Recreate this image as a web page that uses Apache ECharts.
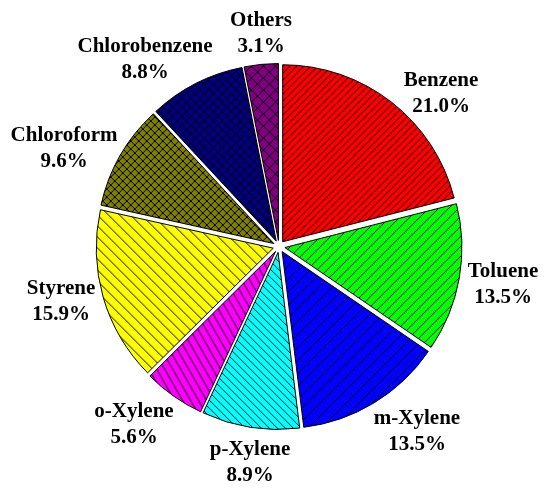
<!DOCTYPE html>
<html>
<head>
<meta charset="utf-8">
<script src="https://cdn.jsdelivr.net/npm/echarts@6/dist/echarts.min.js"></script>
<style>
  html, body { margin: 0; padding: 0; background: #fff; }
  #main { width: 550px; height: 493px; }
</style>
</head>
<body>
<div id="main"></div>
<script>
  // data
  var names = ['Benzene', 'Toluene', 'm-Xylene', 'p-Xylene', 'o-Xylene', 'Styrene', 'Chloroform', 'Chlorobenzene', 'Others'];
  var shares = [21.0, 13.5, 13.5, 8.9, 5.6, 15.9, 9.6, 8.8, 3.1];

  // look of each slice: fill colour and hatch kind
  var fills = ['#ff0000', '#00ff00', '#0000ff', '#00ffff', '#ff00ff', '#ffff00', '#808000', '#000080', '#800080'];
  var hatches = [
    { kind: 'fwd', w: 7, h: 7 },
    { kind: 'fwd', w: 10, h: 10 },
    { kind: 'fwd', w: 13, h: 13 },
    { kind: 'back', w: 8, h: 8 },
    { kind: 'back', w: 8, h: 14 },
    { kind: 'back', w: 11, h: 11 },
    { kind: 'cross', w: 8, h: 8 },
    { kind: 'cross', w: 9, h: 9 },
    { kind: 'cross', w: 12, h: 12 }
  ];
  // label block centres (labels were placed by hand in the original)
  var labelPos = [[441, 94], [503, 285], [417, 432], [250, 463], [134, 425], [61, 302], [64, 149], [145, 60], [261, 34]];

  function makeHatch(bg, h) {
    var c = document.createElement('canvas');
    c.width = h.w;
    c.height = h.h;
    var ctx = c.getContext('2d');
    ctx.fillStyle = bg;
    ctx.fillRect(0, 0, h.w, h.h);
    ctx.strokeStyle = '#000';
    ctx.lineWidth = 1;
    ctx.beginPath();
    for (var k = -1; k <= 1; k++) {
      var ox = k * h.w;
      if (h.kind === 'fwd' || h.kind === 'cross') {
        ctx.moveTo(ox, h.h);
        ctx.lineTo(ox + h.w, 0);
      }
      if (h.kind === 'back' || h.kind === 'cross') {
        ctx.moveTo(ox, 0);
        ctx.lineTo(ox + h.w, h.h);
      }
    }
    ctx.stroke();
    return { image: c, repeat: 'repeat' };
  }

  var pieData = names.map(function (n, i) {
    return {
      name: n,
      value: shares[i],
      selected: true,
      itemStyle: { color: makeHatch(fills[i], hatches[i]) }
    };
  });

  var labels = names.map(function (n, i) {
    return {
      type: 'text',
      x: labelPos[i][0],
      y: labelPos[i][1],
      silent: true,
      style: {
        text: n + '\n' + shares[i].toFixed(1) + '%',
        fill: '#000',
        font: 'bold 21px "Liberation Serif", "Times New Roman", serif',
        lineHeight: 26,
        align: 'center',
        verticalAlign: 'middle'
      }
    };
  });

  var myChart = echarts.init(document.getElementById('main'));
  var option = {
    animation: false,
    backgroundColor: '#fff',
    graphic: labels,
    series: [
      {
        type: 'pie',
        center: [279, 246.5],
        radius: [0, 177],
        startAngle: 90,
        clockwise: true,
        selectedMode: 'multiple',
        selectedOffset: 6,
        itemStyle: { borderColor: '#000', borderWidth: 1 },
        select: { itemStyle: { borderColor: '#000', borderWidth: 1 } },
        emphasis: { disabled: true },
        label: { show: false },
        labelLine: { show: false },
        data: pieData
      }
    ]
  };
  myChart.setOption(option);
</script>
</body>
</html>
